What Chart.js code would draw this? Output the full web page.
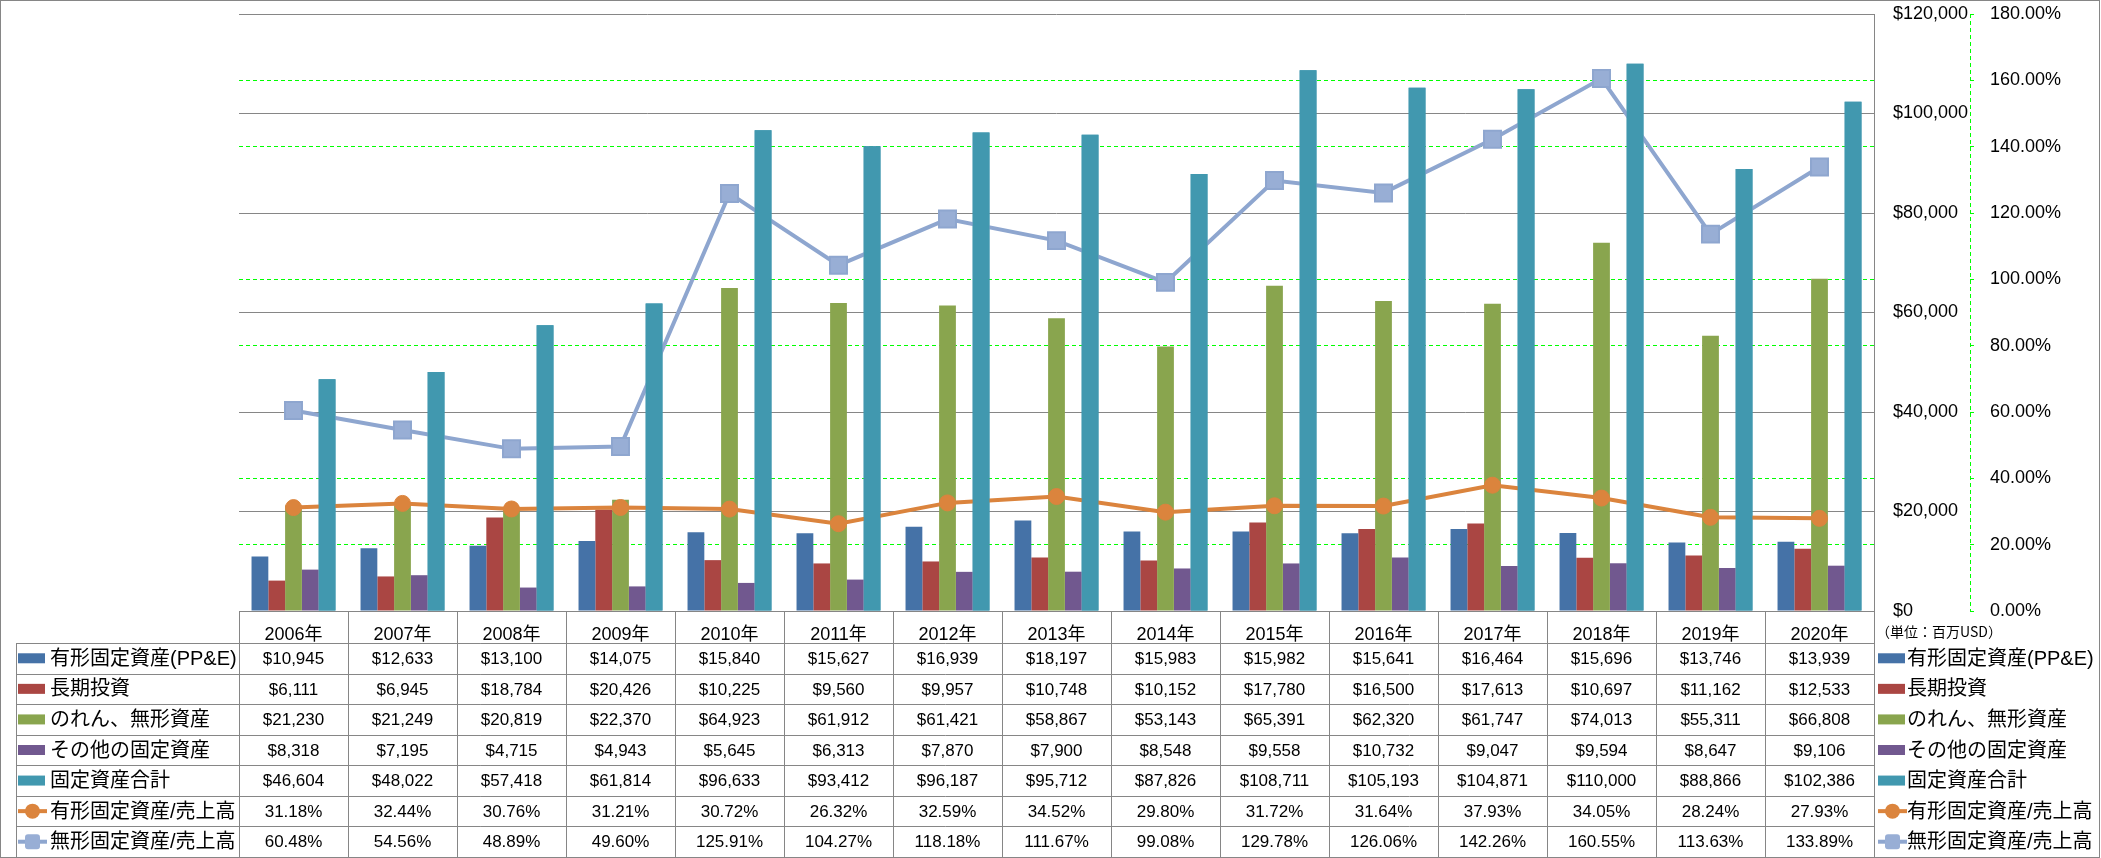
<!DOCTYPE html>
<html>
<head>
    <meta charset="utf-8">
    <title>固定資産の推移</title>
    <script src="https://cdn.jsdelivr.net/npm/chart.js"></script>
    <style>
        body {
            margin: 0;
            background-color: #fff;
        }
        #wrap {
            width: 2101px;
            height: 858px;
        }
    </style>
</head>
<body>
<div id="wrap"><canvas id="chart" width="2101" height="858"></canvas></div>

<script>
    const years = ['2006年', '2007年', '2008年', '2009年', '2010年', '2011年', '2012年', '2013年',
        '2014年', '2015年', '2016年', '2017年', '2018年', '2019年', '2020年'];
    const ppe = [10945, 12633, 13100, 14075, 15840, 15627, 16939, 18197, 15983, 15982, 15641, 16464, 15696, 13746, 13939];
    const longInvest = [6111, 6945, 18784, 20426, 10225, 9560, 9957, 10748, 10152, 17780, 16500, 17613, 10697, 11162, 12533];
    const goodwill = [21230, 21249, 20819, 22370, 64923, 61912, 61421, 58867, 53143, 65391, 62320, 61747, 74013, 55311, 66808];
    const otherFixed = [8318, 7195, 4715, 4943, 5645, 6313, 7870, 7900, 8548, 9558, 10732, 9047, 9594, 8647, 9106];
    const totalFixed = [46604, 48022, 57418, 61814, 96633, 93412, 96187, 95712, 87826, 108711, 105193, 104871, 110000, 88866, 102386];
    const ppeRatio = [31.18, 32.44, 30.76, 31.21, 30.72, 26.32, 32.59, 34.52, 29.80, 31.72, 31.64, 37.93, 34.05, 28.24, 27.93];
    const intangRatio = [60.48, 54.56, 48.89, 49.60, 125.91, 104.27, 118.18, 111.67, 99.08, 129.78, 126.06, 142.26, 160.55, 113.63, 133.89];
    const unitLabel = '（単位：百万USD）';

    const FONT = "'Liberation Sans', 'Noto Sans CJK JP', sans-serif";
    const GRAY = '#868686';
    const GREEN = '#00ff00';

    const money = v => '$' + v.toLocaleString('en-US');
    const pct = v => v.toFixed(2) + '%';

    // rows of the data table under the chart (dataset index + formatter)
    const rows = [
        { ds: 0, fmt: money },
        { ds: 1, fmt: money },
        { ds: 2, fmt: money },
        { ds: 3, fmt: money },
        { ds: 4, fmt: money },
        { ds: 5, fmt: pct },
        { ds: 6, fmt: pct }
    ];

    function drawKey(ctx, ds, x, cy) {
        ctx.save();
        if (ds.type === 'line') {
            ctx.strokeStyle = ds.borderColor;
            ctx.lineWidth = 4;
            ctx.beginPath();
            ctx.moveTo(x, cy);
            ctx.lineTo(x + 29, cy);
            ctx.stroke();
            ctx.fillStyle = ds.pointBackgroundColor;
            ctx.beginPath();
            if (ds.pointStyle === 'circle') {
                ctx.arc(x + 14.5, cy, 7.5, 0, Math.PI * 2);
            } else {
                ctx.roundRect(x + 7, cy - 7.5, 15, 15, 3);
            }
            ctx.fill();
        } else {
            ctx.fillStyle = ds.backgroundColor;
            ctx.fillRect(x, cy - 5, 27, 10);
        }
        ctx.restore();
    }

    const tablePlugin = {
        id: 'table',
        afterDatasetsDraw(chart) {
            // 固定資産合計 bars sit above the ratio lines
            chart.getDatasetMeta(4).controller.draw();
        },
        afterDraw(chart) {
            const ctx = chart.ctx;
            const xs = chart.scales.x;
            const y1 = chart.scales.y1;
            const area = chart.chartArea;
            const colW = (xs.right - xs.left) / years.length;
            const top = xs.bottom;
            const bottom = 857;
            const rowH = (bottom - top) / rows.length;

            ctx.save();
            // dashed secondary axis line
            ctx.strokeStyle = GREEN;
            ctx.lineWidth = 1;
            ctx.setLineDash([4, 3]);
            ctx.beginPath();
            ctx.moveTo(y1.left + 0.5, area.top);
            ctx.lineTo(y1.left + 0.5, area.bottom);
            ctx.stroke();
            ctx.setLineDash([]);

            // table grid
            ctx.strokeStyle = GRAY;
            ctx.beginPath();
            for (let i = 0; i <= rows.length; i++) {
                const y = Math.round(top + i * rowH) + 0.5;
                ctx.moveTo(16.5, y);
                ctx.lineTo(xs.right, y);
            }
            ctx.moveTo(16.5, top);
            ctx.lineTo(16.5, bottom);
            for (let i = 0; i <= years.length; i++) {
                const x = Math.round(xs.left + i * colW) + 0.5;
                ctx.moveTo(x, area.bottom);
                ctx.lineTo(x, bottom);
            }
            ctx.stroke();

            // outer frame
            ctx.strokeRect(0.5, 0.5, 2099, 857);

            ctx.fillStyle = '#000';
            ctx.textBaseline = 'middle';
            rows.forEach((r, i) => {
                const ds = chart.data.datasets[r.ds];
                const cy = top + (i + 0.5) * rowH;
                drawKey(ctx, ds, 18, cy);
                drawKey(ctx, ds, 1878, cy);
                ctx.fillStyle = '#000';
                ctx.font = '20px ' + FONT;
                ctx.textAlign = 'left';
                ctx.fillText(ds.label, 50, cy + 1);
                ctx.fillText(ds.label, 1907, cy + 1);
                ctx.font = '17px ' + FONT;
                ctx.textAlign = 'center';
                ds.data.forEach((v, j) => {
                    ctx.fillText(r.fmt(v), xs.getPixelForValue(j), cy + 1);
                });
            });

            ctx.font = "14px 'Noto Sans CJK JP'";
            ctx.textAlign = 'left';
            ctx.fillText(unitLabel, 1876, 632);
            ctx.restore();
        }
    };

    new Chart(document.getElementById('chart'), {
        data: {
            labels: years,
            datasets: [
                { type: 'bar', label: '有形固定資産(PP&E)', data: ppe, backgroundColor: '#4572A7', yAxisID: 'y' },
                { type: 'bar', label: '長期投資', data: longInvest, backgroundColor: '#AA4643', yAxisID: 'y' },
                { type: 'bar', label: 'のれん、無形資産', data: goodwill, backgroundColor: '#89A54E', yAxisID: 'y' },
                { type: 'bar', label: 'その他の固定資産', data: otherFixed, backgroundColor: '#71588F', yAxisID: 'y' },
                { type: 'bar', label: '固定資産合計', data: totalFixed, backgroundColor: '#4198AF', yAxisID: 'y' },
                {
                    type: 'line', label: '有形固定資産/売上高', data: ppeRatio, yAxisID: 'y1', order: -1,
                    borderColor: '#DB843D', borderWidth: 4, tension: 0,
                    pointStyle: 'circle', pointRadius: 8, pointBorderWidth: 1,
                    pointBackgroundColor: '#DB843D', pointBorderColor: '#DB843D'
                },
                {
                    type: 'line', label: '無形固定資産/売上高', data: intangRatio, yAxisID: 'y1', order: -1,
                    borderColor: '#8EA6CF', borderWidth: 4, tension: 0,
                    pointStyle: 'rect', pointRadius: 12, pointBorderWidth: 2,
                    pointBackgroundColor: '#98AED5', pointBorderColor: '#8EA6CF'
                }
            ]
        },
        options: {
            responsive: false,
            animation: false,
            devicePixelRatio: 1,
            layout: { padding: { left: 239, top: 13, right: 0, bottom: 215 } },
            datasets: { bar: { barPercentage: 1, categoryPercentage: 0.77 } },
            plugins: { legend: { display: false }, tooltip: { enabled: false } },
            scales: {
                x: {
                    grid: { display: false },
                    border: { color: GRAY },
                    ticks: { font: { family: FONT, size: 18 }, color: '#000', padding: 5, maxRotation: 0, autoSkip: false },
                    afterFit: s => { s.height = 32; }
                },
                y: {
                    position: 'right',
                    weight: 0,
                    min: 0,
                    max: 120000,
                    // label gap comes from an invisible tick mark so it does not push the plot top down
                    ticks: { stepSize: 20000, callback: v => money(v), padding: 0, font: { family: FONT, size: 18 }, color: '#000' },
                    grid: { color: GRAY, drawTicks: true, tickLength: 19, tickColor: 'rgba(0,0,0,0)' },
                    border: { color: GRAY },
                    afterFit: s => { s.width = 96; }
                },
                y1: {
                    position: 'right',
                    weight: 1,
                    min: 0,
                    max: 180,
                    ticks: { stepSize: 20, callback: v => pct(v), padding: 0, font: { family: FONT, size: 18 }, color: '#000' },
                    grid: {
                        color: c => (c.tick && [0, 60, 120, 180].includes(c.tick.value)) ? 'rgba(0,0,0,0)' : GREEN,
                        tickColor: GREEN,
                        tickLength: 20,
                        tickBorderDash: [4, 40],
                        borderDash: [4, 3]
                    },
                    border: { display: false, dash: [4, 3] },
                    afterFit: s => { s.width = 131; }
                }
            }
        },
        plugins: [tablePlugin]
    });
</script>
</body>
</html>
